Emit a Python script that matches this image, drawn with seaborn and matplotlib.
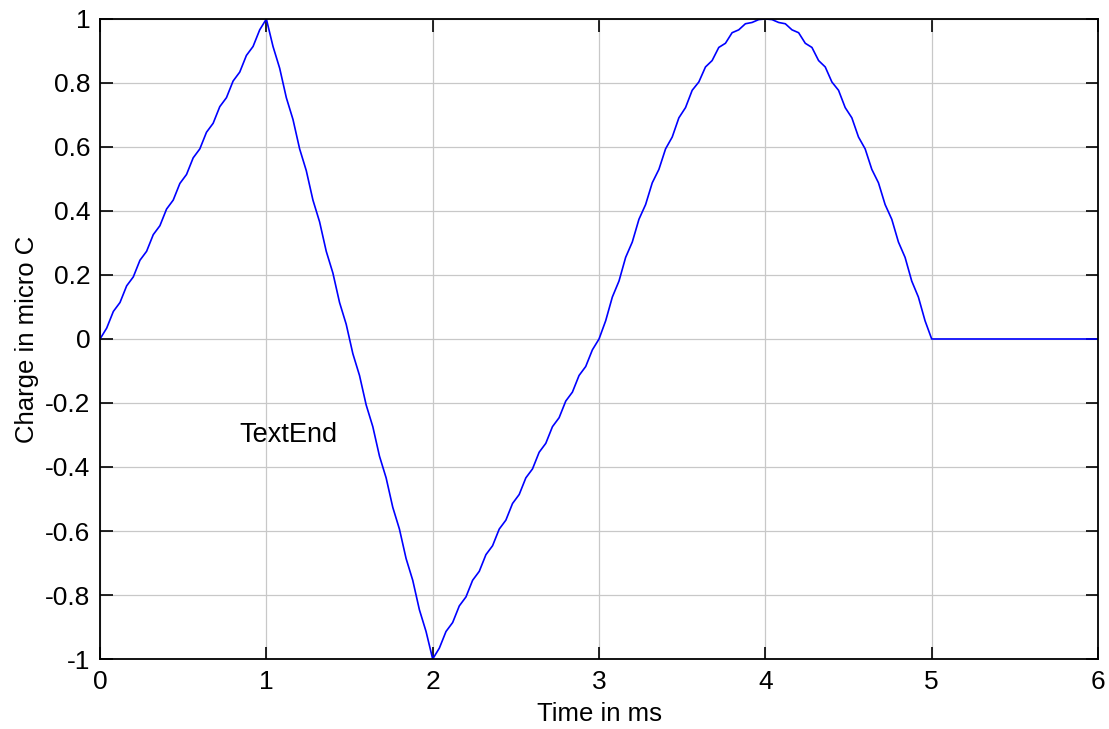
import matplotlib
matplotlib.use('Agg')
import matplotlib.pyplot as plt
import pandas as pd
import seaborn as sns
from matplotlib.ticker import FuncFormatter

# sample times (ms)
t_ms = [0.00, 0.04, 0.08, 0.12, 0.16, 0.20, 0.24, 0.28, 0.32, 0.36,
        0.40, 0.44, 0.48, 0.52, 0.56, 0.60, 0.64, 0.68, 0.72, 0.76,
        0.80, 0.84, 0.88, 0.92, 0.96, 1.00, 1.04, 1.08, 1.12, 1.16,
        1.20, 1.24, 1.28, 1.32, 1.36, 1.40, 1.44, 1.48, 1.52, 1.56,
        1.60, 1.64, 1.68, 1.72, 1.76, 1.80, 1.84, 1.88, 1.92, 1.96,
        2.00, 2.04, 2.08, 2.12, 2.16, 2.20, 2.24, 2.28, 2.32, 2.36,
        2.40, 2.44, 2.48, 2.52, 2.56, 2.60, 2.64, 2.68, 2.72, 2.76,
        2.80, 2.84, 2.88, 2.92, 2.96, 3.00, 3.04, 3.08, 3.12, 3.16,
        3.20, 3.24, 3.28, 3.32, 3.36, 3.40, 3.44, 3.48, 3.52, 3.56,
        3.60, 3.64, 3.68, 3.72, 3.76, 3.80, 3.84, 3.88, 3.92, 3.96,
        4.00, 4.04, 4.08, 4.12, 4.16, 4.20, 4.24, 4.28, 4.32, 4.36,
        4.40, 4.44, 4.48, 4.52, 4.56, 4.60, 4.64, 4.68, 4.72, 4.76,
        4.80, 4.84, 4.88, 4.92, 4.96, 5.00, 6.00]

# charge (micro C), with the small ripple seen in the curve
charge = [0.0, 0.034, 0.086, 0.114, 0.166, 0.194, 0.246, 0.274, 0.326, 0.354,
          0.406, 0.434, 0.486, 0.514, 0.566, 0.594, 0.646, 0.674, 0.726, 0.754,
          0.806, 0.834, 0.886, 0.914, 0.966, 1.0, 0.914, 0.846, 0.754, 0.686,
          0.594, 0.526, 0.434, 0.366, 0.274, 0.206, 0.114, 0.046, -0.046, -0.114,
          -0.206, -0.274, -0.366, -0.434, -0.526, -0.594, -0.686, -0.754, -0.846, -0.914,
          -1.0, -0.966, -0.914, -0.886, -0.834, -0.806, -0.754, -0.726, -0.674, -0.646,
          -0.594, -0.566, -0.514, -0.486, -0.434, -0.406, -0.354, -0.326, -0.274, -0.246,
          -0.194, -0.166, -0.114, -0.086, -0.034, 0.0, 0.057, 0.131, 0.181, 0.255,
          0.303, 0.374, 0.420, 0.488, 0.530, 0.594, 0.631, 0.691, 0.723, 0.777,
          0.803, 0.850, 0.870, 0.911, 0.924, 0.957, 0.966, 0.985, 0.989, 0.998,
          1.0, 0.998, 0.989, 0.985, 0.966, 0.957, 0.924, 0.911, 0.870, 0.850,
          0.803, 0.777, 0.723, 0.691, 0.631, 0.594, 0.530, 0.488, 0.420, 0.374,
          0.303, 0.255, 0.181, 0.131, 0.057, 0.0, 0.0]

x_ticks = [0, 1, 2, 3, 4, 5, 6]
y_ticks = [-1, -0.8, -0.6, -0.4, -0.2, 0, 0.2, 0.4, 0.6, 0.8, 1]

df = pd.DataFrame({'time': t_ms, 'charge': charge})

sns.set_style('white')
plt.rcParams['font.family'] = ['Liberation Sans', 'DejaVu Sans']
plt.rcParams['text.color'] = 'black'
plt.rcParams['axes.labelcolor'] = 'black'

fig = plt.figure(figsize=(11.09, 7.29), dpi=100)
ax = fig.add_axes([0.0902, 0.096, 0.8999, 0.878])

sns.lineplot(data=df, x='time', y='charge', color='#0000ff', linewidth=1.2,
             ax=ax, sort=False, estimator=None)

ax.set_xlim(0, 6)
ax.set_ylim(-1, 1)
ax.set_xticks(x_ticks)
ax.set_yticks(y_ticks)
ax.yaxis.set_major_formatter(FuncFormatter(lambda v, p: '{:g}'.format(round(v, 1))))
ax.xaxis.set_major_formatter(FuncFormatter(lambda v, p: '{:g}'.format(v)))
ax.grid(True, color='#c8c8c8', linewidth=0.9)
ax.set_axisbelow(True)
ax.tick_params(direction='in', length=9, width=1.2, top=True, right=True,
               bottom=True, left=True, labelsize=19, colors='black')
ax.tick_params(axis='y', pad=7)
ax.tick_params(axis='x', pad=8)
for s in ax.spines.values():
    s.set_color('black')
    s.set_linewidth(1.3)

ax.set_xlabel('Time in ms', fontsize=18.5, labelpad=6)
ax.set_ylabel('Charge in micro C', fontsize=18.5, labelpad=4)
ax.text(0.84, -0.3, 'TextEnd', fontsize=19.5, va='center', ha='left')

fig.savefig('out.png', dpi=100)
